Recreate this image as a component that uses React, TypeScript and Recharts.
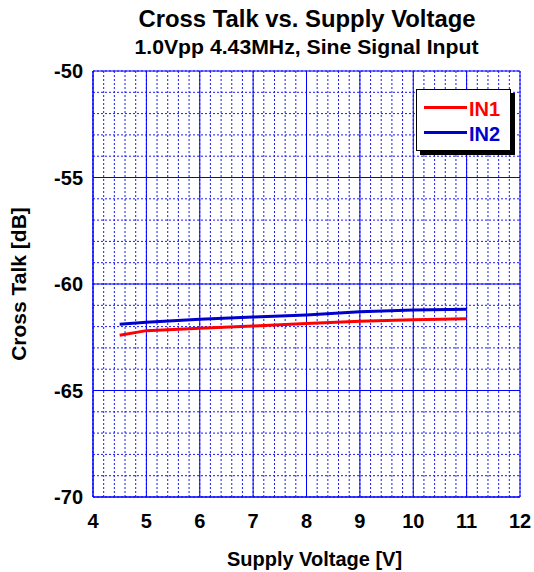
import { LineChart, Line, XAxis, YAxis, CartesianGrid, Legend, Label } from "recharts";

const FONT = '"Liberation Sans", Arial, sans-serif';

// supply voltage [V]
const voltages = [4.5, 5, 6, 7, 8, 9, 10, 11];
// cross talk [dB]
const in1 = [-62.41, -62.19, -62.08, -61.97, -61.86, -61.75, -61.68, -61.63];
const in2 = [-61.89, -61.8, -61.66, -61.55, -61.45, -61.3, -61.22, -61.19];

const xTicks = [4, 5, 6, 7, 8, 9, 10, 11, 12];
const yTicks = [-50, -55, -60, -65, -70];

// minor grid: 0.2 V and 1 dB steps
const xMinor = Array.from({ length: 41 }, (_, i) => +(4 + i * 0.2).toFixed(1));
const yMinor = Array.from({ length: 21 }, (_, i) => -50 - i);

const data = voltages.map((v, i) => ({ v, IN1: in1[i], IN2: in2[i] }));

function renderLegend(props: any) {
  const { payload = [] } = props;
  return (
    <div
      style={{
        width: 95,
        height: 62,
        boxSizing: "border-box",
        border: "1px solid #000",
        background: "#fff",
        boxShadow: "4px 4px 0 #000",
        padding: "7px 0 0 7px",
        fontFamily: FONT,
      }}
    >
      {payload.map((p: any) => (
        <div key={p.value} style={{ display: "flex", alignItems: "center", height: 25 }}>
          <span
            style={{
              display: "inline-block",
              width: 43,
              height: 3,
              background: p.color,
              position: "relative",
              top: -2,
            }}
          />
          <span style={{ color: p.color, fontSize: 20, fontWeight: "bold", marginLeft: 2, lineHeight: "25px" }}>
            {p.value}
          </span>
        </div>
      ))}
    </div>
  );
}

export default function App() {
  return (
    <div style={{ position: "absolute", left: 0, top: 0, width: 534, height: 572, background: "#fff" }}>
      <LineChart
        width={534}
        height={572}
        data={data}
        margin={{ top: 71, right: 14, bottom: 0, left: 0 }}
        style={{ position: "absolute", left: 0, top: 0 }}
      >
        <CartesianGrid
          horizontalValues={yMinor}
          verticalValues={xMinor}
          stroke="#1a1aff"
          strokeDasharray="2 2"
          fill="none"
        />
        <CartesianGrid horizontalValues={yTicks} verticalValues={xTicks} stroke="#0000ff" fill="none" />
        <XAxis
          dataKey="v"
          type="number"
          domain={[4, 12]}
          ticks={xTicks}
          interval={0}
          height={75}
          axisLine={{ stroke: "#0000ff" }}
          tickLine={false}
          tickSize={0}
          tickMargin={17}
          tick={{ fontSize: 20, fontWeight: "bold", fill: "#000", fontFamily: FONT }}
        >
          <Label
            value="Supply Voltage [V]"
            position="insideBottom"
            offset={6}
            dx={8}
            style={{ fontSize: 20, fontWeight: "bold", fill: "#000", fontFamily: FONT }}
          />
        </XAxis>
        <YAxis
          type="number"
          domain={[-70, -50]}
          ticks={yTicks}
          interval={0}
          width={93}
          axisLine={{ stroke: "#0000ff" }}
          tickLine={false}
          tickSize={0}
          tickMargin={10}
          tick={{ fontSize: 20, fontWeight: "bold", fill: "#000", fontFamily: FONT }}
        >
          <Label
            value="Cross Talk [dB]"
            angle={-90}
            position="insideLeft"
            offset={19}
            style={{ textAnchor: "middle", fontSize: 21, fontWeight: "bold", fill: "#000", fontFamily: FONT }}
          />
        </YAxis>
        <Legend
          content={renderLegend}
          layout="vertical"
          align="center"
          verticalAlign="middle"
          wrapperStyle={{ left: 416, top: 89, width: "auto" }}
        />
        <Line dataKey="IN1" stroke="#ff0000" strokeWidth={3} dot={false} isAnimationActive={false} />
        <Line dataKey="IN2" stroke="#0000cc" strokeWidth={3} dot={false} isAnimationActive={false} />
      </LineChart>
      <svg
        width={534}
        height={572}
        style={{ position: "absolute", left: 0, top: 0, pointerEvents: "none" }}
        fontFamily={FONT}
        fontWeight="bold"
      >
        <text x={307} y={27} textAnchor="middle" fontSize={23} textLength={337} lengthAdjust="spacingAndGlyphs">
          Cross Talk vs. Supply Voltage
        </text>
        <text x={306.5} y={54} textAnchor="middle" fontSize={21} textLength={344} lengthAdjust="spacingAndGlyphs">
          1.0Vpp 4.43MHz, Sine Signal Input
        </text>
      </svg>
    </div>
  );
}
